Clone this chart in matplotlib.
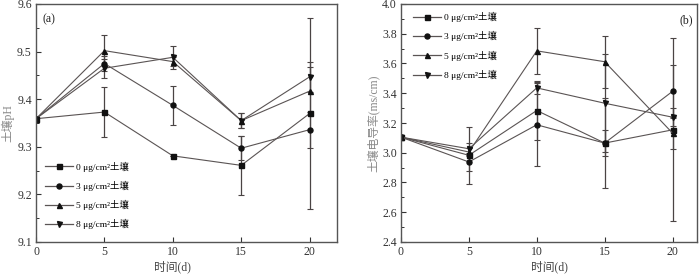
import matplotlib
matplotlib.use("Agg")
import matplotlib.pyplot as plt
from matplotlib.ticker import MultipleLocator
from matplotlib.lines import Line2D

plt.rcParams['font.family'] = ['Liberation Serif', 'Noto Sans CJK SC']
plt.rcParams['mathtext.fontset'] = 'stix'

days = [0, 5, 10, 15, 20]
labels = ["0 μg/cm²土壤", "3 μg/cm²土壤", "5 μg/cm²土壤", "8 μg/cm²土壤"]
markers = ['s', 'o', '^', 'v']

# Panel (a): soil pH
ph_0 = [9.359, 9.373, 9.281, 9.261, 9.370]
ph_3 = [9.359, 9.475, 9.387, 9.297, 9.336]
ph_5 = [9.359, 9.502, 9.479, 9.355, 9.417]
ph_8 = [9.359, 9.465, 9.488, 9.355, 9.447]
ph_err_0 = [0.0, 0.053, 0.0, 0.062, 0.200]
ph_err_3 = [0.0, 0.015, 0.041, 0.025, 0.038]
ph_err_5 = [0.0, 0.033, 0.010, 0.015, 0.050]
ph_err_8 = [0.0, 0.020, 0.024, 0.015, 0.032]

# Panel (b): soil electrical conductivity
ec_0 = [3.105, 2.983, 3.284, 3.065, 3.154]
ec_3 = [3.105, 2.938, 3.188, 3.065, 3.413]
ec_5 = [3.105, 3.005, 3.685, 3.612, 3.132]
ec_8 = [3.105, 3.027, 3.436, 3.333, 3.239]
ec_err_0 = [0.0, 0.190, 0.200, 0.300, 0.615]
ec_err_3 = [0.0, 0.060, 0.280, 0.090, 0.180]
ec_err_5 = [0.0, 0.030, 0.155, 0.175, 0.110]
ec_err_8 = [0.0, 0.040, 0.040, 0.330, 0.060]

line_c = '#5a5454'
err_c = '#4a4444'
mk_c = '#111111'

fig = plt.figure(figsize=(7.0, 2.74), dpi=100)
ax1 = fig.add_axes([36/700, 32/274, 301/700, 238/274])
ax2 = fig.add_axes([401/700, 32/274, 296/700, 238/274])

def draw(ax, series, errs):
    handles = []
    for y, e, m, lab in zip(series, errs, markers, labels):
        ax.errorbar(days, y, yerr=e, color=line_c, ecolor=err_c, elinewidth=0.9,
                    capsize=2.2, capthick=0.8, lw=0.8, marker=m, ms=3.6,
                    mfc=mk_c, mec=mk_c)
        handles.append(Line2D([], [], color=line_c, lw=0.9, marker=m, ms=3.6,
                              mfc=mk_c, mec=mk_c, label=lab))
    return handles

h1 = draw(ax1, [ph_0, ph_3, ph_5, ph_8], [ph_err_0, ph_err_3, ph_err_5, ph_err_8])
h2 = draw(ax2, [ec_0, ec_3, ec_5, ec_8], [ec_err_0, ec_err_3, ec_err_5, ec_err_8])

ax1.set_xlim(0, 22)
ax1.set_ylim(9.1, 9.6)
ax1.yaxis.set_major_locator(MultipleLocator(0.1))
ax1.yaxis.set_minor_locator(MultipleLocator(0.05))
ax2.set_xlim(0, 21.8)
ax2.set_ylim(2.4, 4.0)
ax2.yaxis.set_major_locator(MultipleLocator(0.2))
ax2.yaxis.set_minor_locator(MultipleLocator(0.1))

for ax in (ax1, ax2):
    ax.set_xticks(days)
    ax.tick_params(axis='both', which='major', direction='in', length=3.5, width=0.8,
                   labelsize=8.5, colors='#333333', pad=3)
    ax.tick_params(axis='y', which='minor', direction='in', length=2, width=0.7, colors='#333333')
    for s in ax.spines.values():
        s.set_color('#555555')
        s.set_linewidth(1.0)

ax1.set_xlabel("时间(d)", fontsize=8.5, color='#444444', labelpad=1)
ax1.xaxis.set_label_coords(10/22, -0.08)
ax1.set_ylabel("土壤pH", fontsize=8.5, color='#888888', labelpad=2)
ax2.set_xlabel("时间(d)", fontsize=8.5, color='#444444', labelpad=1)
ax2.xaxis.set_label_coords(0.5, -0.08)
ax2.set_ylabel("土壤电导率(ms/cm)", fontsize=8.5, color='#888888', labelpad=2)

ax1.text(0.02, 0.96, "(a)", transform=ax1.transAxes, fontsize=8.5, va='top', ha='left', color='#222222')
ax2.text(0.985, 0.955, "(b)", transform=ax2.transAxes, fontsize=8.5, va='top', ha='right', color='#222222')

leg_kw = dict(frameon=False, fontsize=6.8, handlelength=3.0, handletextpad=0.3,
              labelspacing=0.95, borderaxespad=0.2)
ax1.legend(handles=h1, loc='lower left', bbox_to_anchor=(0.01, 0.03), **leg_kw)
ax2.legend(handles=h2, loc='upper left', bbox_to_anchor=(0.02, 0.99), **leg_kw)

fig.savefig("out.png", dpi=100)
